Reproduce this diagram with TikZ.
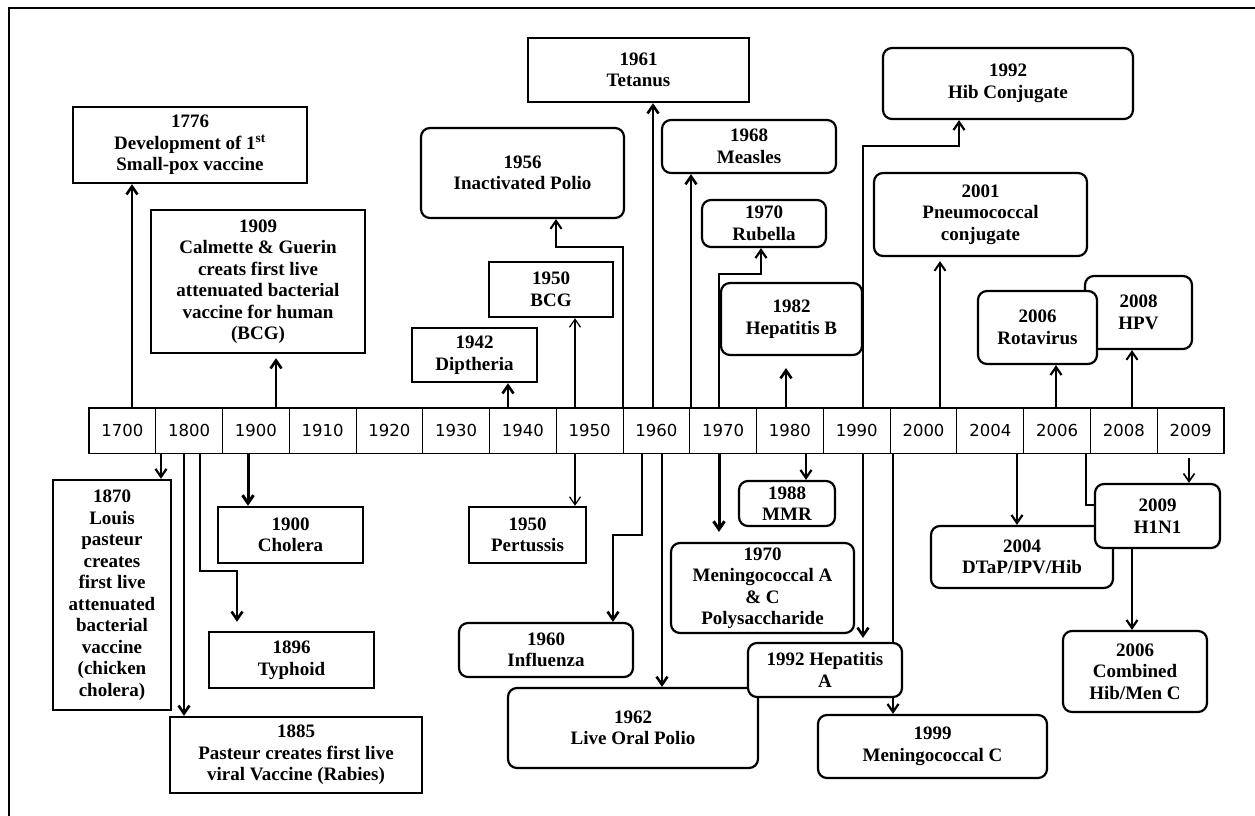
\documentclass[tikz,border=0pt]{standalone}
\usepackage{fontspec}
\setmainfont{Liberation Serif}
\newfontfamily\tlfont{DejaVu Sans}
\usetikzlibrary{arrows.meta, backgrounds}

\begin{document}
\begin{tikzpicture}[x=1pt, y=-1pt, >={Straight Barb[length=8pt,width=11pt]},
    box/.style={draw, line width=2.4pt, fill=white, align=center, inner sep=2pt,
        font=\bfseries\fontsize{19}{21.5}\selectfont},
    rbox/.style={box, rounded corners=9pt, line width=2.2pt},
    yearcell/.style={draw, line width=1pt, minimum width=66.76pt, minimum height=45pt,
        inner sep=0pt, font=\tlfont\fontsize{16.5}{18}\selectfont},
    conn/.style={->, line width=2.6pt},
    thinconn/.style={->, line width=1.2pt}]
    \useasboundingbox (0,0) rectangle (1255,816);

    % Frame
    \draw[line width=2pt] (9,816) -- (9,8) -- (1255,8);

    % Timeline
    \foreach \yr [count=\i] in {1700,1800,1900,1910,1920,1930,1940,1950,1960,1970,1980,1990,2000,2004,2006,2008,2009}
        \node[yearcell] (c\i) at ({89+66.76*(\i-0.5)},430.5) {\yr};
    \draw[line width=1.8pt] (c1.north west) rectangle (c17.south east);

    % Boxes above the timeline
    \node[box, minimum width=234pt, minimum height=76pt] (b1776) at (190,145)
        {1776\\Development of 1\textsuperscript{st}\\Small-pox vaccine};
    \node[box, minimum width=214pt, minimum height=143pt] (b1909) at (258,281.5)
        {1909\\Calmette \& Guerin\\creats first live\\attenuated bacterial\\vaccine for human\\(BCG)};
    \node[box, minimum width=125pt, minimum height=54pt] (b1942) at (474.5,355) {1942\\Diptheria};
    \node[box, minimum width=124pt, minimum height=55pt] (b1950bcg) at (551,289.5) {1950\\BCG};
    \node[rbox, minimum width=203pt, minimum height=90pt] (b1956) at (522.5,173) {1956\\Inactivated Polio};
    \node[box, minimum width=221pt, minimum height=64pt] (b1961) at (638.5,70) {1961\\Tetanus};
    \node[rbox, minimum width=174pt, minimum height=53pt] (b1968) at (749,146.5) {1968\\Measles};
    \node[rbox, minimum width=124pt, minimum height=47pt] (b1970rub) at (764,223.5) {1970\\Rubella};
    \node[rbox, minimum width=141pt, minimum height=72pt] (b1982) at (791.5,319) {1982\\Hepatitis B};
    \node[rbox, minimum width=250pt, minimum height=71pt] (b1992hib) at (1008,83.5) {1992\\Hib Conjugate};
    \node[rbox, minimum width=213pt, minimum height=83pt] (b2001) at (980.5,214.5) {2001\\Pneumococcal\\conjugate};
    \node[rbox, minimum width=107pt, minimum height=73pt] (b2008) at (1138.5,312.5) {2008\\HPV};
    \node[rbox, minimum width=119pt, minimum height=73pt] (b2006rot) at (1037.5,327.5) {2006\\Rotavirus};

    % Boxes below the timeline
    \node[box, minimum width=118pt, minimum height=230pt] (b1870) at (112,595)
        {1870\\Louis\\pasteur\\creates\\first live\\attenuated\\bacterial\\vaccine\\(chicken\\cholera)};
    \node[box, minimum width=252pt, minimum height=76pt] (b1885) at (296,755)
        {1885\\Pasteur creates first live\\viral Vaccine (Rabies)};
    \node[box, minimum width=145pt, minimum height=56pt] (b1900) at (290.5,535) {1900\\Cholera};
    \node[box, minimum width=165pt, minimum height=56pt] (b1896) at (291.5,660) {1896\\Typhoid};
    \node[box, minimum width=117pt, minimum height=56pt] (b1950per) at (527.5,535) {1950\\Pertussis};
    \node[rbox, minimum width=174pt, minimum height=54pt] (b1960) at (546,650) {1960\\Influenza};
    \node[rbox, minimum width=250pt, minimum height=80pt] (b1962) at (633,728) {1962\\Live Oral Polio};
    \node[rbox, minimum width=183pt, minimum height=90pt] (b1970men) at (762.5,588)
        {1970\\Meningococcal A\\\& C\\Polysaccharide};
    \node[rbox, minimum width=96pt, minimum height=45pt, inner sep=0pt] (b1988) at (787,503.5) {1988\\MMR};
    \node[rbox, minimum width=154pt, minimum height=54pt] (b1992hep) at (825,670) {1992 Hepatitis\\A};
    \node[rbox, minimum width=229pt, minimum height=63pt] (b1999) at (932.5,746.5) {1999\\Meningococcal C};
    \node[rbox, minimum width=182pt, minimum height=62pt] (b2004) at (1022,557) {2004\\DTaP/IPV/Hib};
    \node[rbox, minimum width=125pt, minimum height=64pt] (b2009) at (1157.5,516) {2009\\H1N1};
    \node[rbox, minimum width=144pt, minimum height=81pt] (b2006comb) at (1135,671.5) {2006\\Combined\\Hib/Men C};

    % Connectors
    \begin{scope}[on background layer]
        % up from the timeline
        \coordinate (u1776) at (132,408);
        \coordinate (u1909) at (276,408);
        \coordinate (u1942) at (508,408);
        \coordinate (u1950) at (575,408);
        \coordinate (u1956) at (623,408);
        \coordinate (k1956) at (556,247);
        \coordinate (u1961) at (653,408);
        \coordinate (u1968) at (691,408);
        \coordinate (u1970) at (719,408);
        \coordinate (k1970) at (761,274);
        \coordinate (u1982) at (786,408);
        \coordinate (u1992) at (863,408);
        \coordinate (k1992) at (959,146);
        \coordinate (u2001) at (940,408);
        \coordinate (u2006) at (1056,408);
        \coordinate (u2008) at (1132,408);
        \draw[conn] (u1776) -- (u1776 |- b1776.south);
        \draw[conn, shorten >=4pt] (u1909) -- (u1909 |- b1909.south);
        \draw[conn] (u1942) -- (u1942 |- b1942.south);
        \draw[thinconn] (u1950) -- (u1950 |- b1950bcg.south);
        \draw[conn, line width=2pt] (u1956) |- (k1956) -- (k1956 |- b1956.south);
        \draw[conn] (u1961) -- (u1961 |- b1961.south);
        \draw[conn] (u1968) -- (u1968 |- b1968.south);
        \draw[conn, line width=2.2pt] (u1970) |- (k1970) -- (k1970 |- b1970rub.south);
        \draw[conn, shorten >=12pt] (u1982) -- (u1982 |- b1982.south);
        \draw[conn, line width=2.2pt] (u1992) |- (k1992) -- (k1992 |- b1992hib.south);
        \draw[conn, line width=2pt, shorten >=4pt] (u2001) -- (u2001 |- b2001.south);
        \draw[conn, line width=2.2pt] (u2006) -- (u2006 |- b2006rot.south);
        \draw[conn, line width=2pt] (u2008) -- (u2008 |- b2008.south);

        % down from the timeline
        \coordinate (d1870) at (161,453);
        \coordinate (d1885) at (184,453);
        \coordinate (d1900) at (248,453);
        \coordinate (d1896) at (200,453);
        \coordinate (k1896) at (237,571);
        \coordinate (d1950) at (575,453);
        \coordinate (d1960) at (642,453);
        \coordinate (k1960) at (613,535);
        \coordinate (d1962) at (662,453);
        \coordinate (d1970) at (719,453);
        \coordinate (d1988) at (806,453);
        \coordinate (d1992) at (863,453);
        \coordinate (d1999) at (893,453);
        \coordinate (d2004) at (1017,453);
        \coordinate (d2006) at (1086,453);
        \coordinate (k2006) at (1132,505);
        \coordinate (d2009) at (1189,458);
        \draw[conn, line width=2.2pt] (d1870) -- (d1870 |- b1870.north);
        \draw[conn] (d1885) -- (d1885 |- b1885.north);
        \draw[conn, line width=3pt] (d1900) -- (d1900 |- b1900.north);
        \draw[conn, shorten >=9pt] (d1896) |- (k1896) -- (k1896 |- b1896.north);
        \draw[thinconn] (d1950) -- (d1950 |- b1950per.north);
        \draw[conn] (d1960) |- (k1960) -- (k1960 |- b1960.north);
        \draw[conn] (d1962) -- (d1962 |- b1962.north);
        \draw[conn, line width=3pt, shorten >=10pt] (d1970) -- (d1970 |- b1970men.north);
        \draw[conn, line width=2.2pt] (d1988) -- (d1988 |- b1988.north);
        \draw[conn, shorten >=4pt] (d1992) -- (d1992 |- b1992hep.north);
        \draw[conn, line width=2.2pt] (d1999) -- (d1999 |- b1999.north);
        \draw[conn, line width=2.2pt] (d2004) -- (d2004 |- b2004.north);
        \draw[thinconn, line width=1.6pt] (d2009) -- (d2009 |- b2009.north);
        \draw[conn, line width=2.2pt] (d2006) |- (k2006) -- (k2006 |- b2006comb.north);
    \end{scope}
\end{tikzpicture}
\end{document}
